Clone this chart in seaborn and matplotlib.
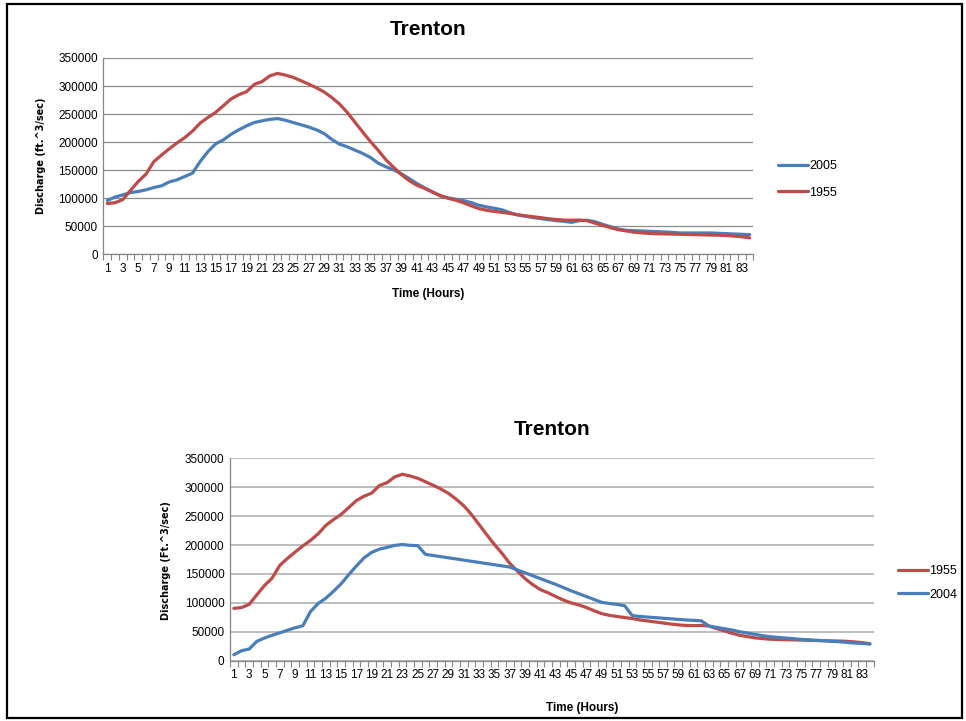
import numpy as np
import pandas as pd
import matplotlib
matplotlib.use("Agg")
import matplotlib.pyplot as plt
import seaborn as sns
from matplotlib.patches import Rectangle

# hourly discharge at Trenton (ft^3/sec)
hours = list(range(1, 85))

q_1955 = [90500, 92000, 97500, 114000, 130000, 143000, 165000, 177000, 188000, 198500,
          208000, 219500, 234000, 244000, 253000, 265000, 277000, 284500, 290000, 303000,
          308000, 318000, 322500, 319500, 315500, 309500, 303500, 297000, 289500, 279500,
          268000, 253000, 235500, 218000, 201000, 185500, 168500, 155000, 142000, 131500,
          123000, 117500, 111000, 105000, 100000, 96500, 92000, 86500, 81500, 78500,
          76500, 74700, 72900, 70500, 68800, 67000, 65300, 63500, 62000, 61000,
          60800, 61000, 60000, 55500, 51500, 47500, 44000, 41800, 39500, 38300,
          37200, 36600, 36300, 36000, 35700, 35300, 35000, 34600, 34300, 34000,
          33500, 32500, 31300, 29300]

q_2005 = [96000, 102000, 106000, 110000, 112000, 115000, 119000, 122000, 129000, 132700,
          138700, 144600, 165500, 183000, 197000, 204000, 214000, 222000, 229000, 235000,
          238000, 240500, 242000, 239000, 235000, 231000, 227000, 222000, 215500, 204800,
          196400, 191700, 185700, 179800, 172600, 162500, 156000, 150600, 143500, 135100,
          126200, 118500, 111300, 104200, 100600, 98200, 95800, 92300, 87500, 84500,
          82100, 79200, 74400, 70200, 67900, 65500, 63600, 61800, 60000, 58800,
          57000, 60000, 60600, 58200, 53400, 49300, 45100, 42800, 42200, 41600,
          41000, 40400, 39800, 39200, 38000, 38000, 38000, 38000, 38000, 37400,
          36800, 36200, 35600, 35000]

q_2004 = [10400, 17300, 20200, 33500, 39300, 44000, 48300, 52800, 57000, 60400,
          85000, 99000, 108000, 120000, 133000, 149000, 164000, 178000, 187500, 193000,
          196000, 199500, 201000, 199500, 199000, 184000, 182000, 180000, 178000, 176000,
          174000, 172000, 170000, 168000, 166000, 164000, 162000, 157000, 152000, 147000,
          142000, 137000, 132000, 126500, 121000, 116000, 111000, 106000, 101000, 99000,
          97500, 95000, 78000, 76500, 75500, 74500, 73500, 72500, 71500, 70500,
          69800, 69000, 60000, 57700, 55400, 53100, 50200, 47900, 45600, 43300,
          41500, 40400, 39200, 38100, 36900, 36300, 35200, 34600, 33400, 32900,
          31700, 30600, 30000, 28800]

xtick_labels = [str(h) for h in range(1, 84, 2)]

blue = "#4a7ebb"
red = "#be4b48"

sns.set_style("white")
plt.rcParams["font.family"] = ["Liberation Sans Narrow", "Liberation Sans", "DejaVu Sans"]
plt.rcParams["text.color"] = "black"
plt.rcParams["axes.labelcolor"] = "black"
plt.rcParams["xtick.color"] = "black"
plt.rcParams["ytick.color"] = "black"


def make_frame(series):
    parts = [pd.DataFrame({"Hour": hours, "Discharge": vals, "Year": name}) for name, vals in series]
    return pd.concat(parts, ignore_index=True)


def draw_panel(ax, df, order, colors, ylabel, grid_color, grid_lw, title_y,
               xlab_xy, ylab_xy, leg_xy, leg_space):
    sns.lineplot(data=df, x="Hour", y="Discharge", hue="Year", hue_order=order,
                 palette=colors, linewidth=2.3, ax=ax)
    ax.set_xlim(0.5, 84.5)
    ax.set_ylim(0, 350000)
    ax.set_yticks(range(0, 350001, 50000))
    ax.set_xticks(range(1, 84, 2))
    ax.set_xticklabels(xtick_labels)
    ax.set_xticks(np.arange(0.5, 85, 1), minor=True)
    ax.tick_params(axis="x", which="major", length=0, labelsize=8.5, pad=6)
    ax.tick_params(axis="x", which="minor", bottom=True, length=4, width=0.8,
                   color="#868686", direction="out")
    ax.tick_params(axis="y", length=0, labelsize=8.5, pad=4)
    ax.grid(axis="y", color=grid_color, lw=grid_lw)
    ax.set_axisbelow(True)
    for side in ["top", "right"]:
        ax.spines[side].set_visible(False)
    for side in ["left", "bottom"]:
        ax.spines[side].set_color("#868686")
        ax.spines[side].set_linewidth(0.9)

    ax.set_title("Trenton", fontsize=15, fontweight="bold", y=title_y, va="center", color="black")
    ax.set_xlabel("Time (Hours)", fontsize=8.5, fontweight="bold")
    ax.xaxis.set_label_coords(*xlab_xy)
    ax.set_ylabel(ylabel, fontsize=7, fontweight="bold", family="DejaVu Sans")
    ax.yaxis.set_label_coords(*ylab_xy)

    ax.legend(loc="center left", bbox_to_anchor=leg_xy, bbox_transform=fig.transFigure,
              frameon=False, fontsize=9, handlelength=2.4, handletextpad=0.1,
              borderpad=0, borderaxespad=0, labelspacing=leg_space)


fig = plt.figure(figsize=(9.66, 7.21), dpi=100)

ax_top = fig.add_axes([0.1071, 0.6473, 0.6729, 0.2723])
df_top = make_frame([("2005", q_2005), ("1955", q_1955)])
draw_panel(ax_top, df_top, ["2005", "1955"], {"2005": blue, "1955": red},
           "Discharge (ft.^3/sec)", "#8c8c8c", 0.9, 1.105,
           (0.5, -0.172), (-0.0885, 0.5), (0.8054, 0.751), 1.16)

ax_bot = fig.add_axes([0.2381, 0.0836, 0.6664, 0.2807])
df_bot = make_frame([("1955", q_1955), ("2004", q_2004)])
draw_panel(ax_bot, df_bot, ["1955", "2004"], {"1955": red, "2004": blue},
           "Discharge (Ft.^3/sec)", "#b8b8b8", 1.3, 1.10,
           (0.547, -0.204), (-0.0917, 0.497), (0.9296, 0.1914), 0.92)

# black frame round the whole picture
fig.add_artist(Rectangle((7 / 966, 1 - 718 / 721), 955 / 966, 714 / 721,
                         transform=fig.transFigure, fill=False, edgecolor="black", lw=1.6))

fig.savefig("out.png", dpi=100)
